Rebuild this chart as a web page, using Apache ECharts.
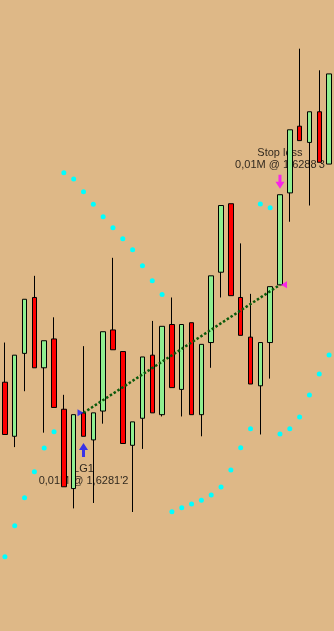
<!DOCTYPE html>
<html>
<head>
<meta charset="utf-8">
<script src="https://cdn.jsdelivr.net/npm/echarts@6/dist/echarts.min.js"></script>
<style>
html,body{margin:0;padding:0;background:#DEB887;}
#chart{width:334px;height:631px;}
</style>
</head>
<body>
<div id="chart"></div>
<script>
// Bars (one per candle)
const categories = ['1','2','3','4','5','6','7','8','9','10','11','12','13','14','15','16','17',
  '18','19','20','21','22','23','24','25','26','27','28','29','30','31','32','33','34'];
const opens  = [1.62829,1.62799,1.62845,1.62876,1.62837,1.62853,1.62814,1.62770,1.62812,1.62797,1.62813,1.62858,1.62846,1.62794,1.62809,1.62844,1.62811,
                1.62861,1.62825,1.62862,1.62811,1.62851,1.62890,1.62928,1.62876,1.62854,1.62827,1.62851,1.62883,1.62934,1.62971,1.62962,1.62979,1.62950];
const closes = [1.62800,1.62844,1.62875,1.62837,1.62852,1.62815,1.62771,1.62811,1.62799,1.62812,1.62857,1.62847,1.62795,1.62807,1.62843,1.62812,1.62860,
                1.62826,1.62861,1.62811,1.62850,1.62888,1.62927,1.62877,1.62855,1.62828,1.62851,1.62882,1.62933,1.62969,1.62963,1.62979,1.62951,1.63000];
const lows   = [1.62800,1.62793,1.62824,1.62837,1.62801,1.62815,1.62771,1.62759,1.62799,1.62762,1.62806,1.62847,1.62795,1.62757,1.62792,1.62812,1.62810,
                1.62826,1.62810,1.62811,1.62799,1.62837,1.62876,1.62877,1.62855,1.62828,1.62800,1.62831,1.62883,1.62918,1.62963,1.62927,1.62951,1.62950];
const highs  = [1.62851,1.62844,1.62875,1.62888,1.62852,1.62865,1.62822,1.62811,1.62849,1.62812,1.62857,1.62898,1.62846,1.62807,1.62843,1.62863,1.62860,
                1.62876,1.62861,1.62862,1.62850,1.62888,1.62927,1.62928,1.62906,1.62878,1.62851,1.62882,1.62933,1.62969,1.63014,1.62979,1.63002,1.63000];
// Parabolic SAR
const sar = [1.627322,1.627494,1.627649,1.627794,1.627925,1.628015,1.629452,1.629417,1.629347,1.629277,1.629208,1.629147,1.629086,1.629025,1.628936,1.628853,1.628776,
             1.627572,1.627594,1.627614,1.627635,1.627664,1.627709,1.627803,1.627927,1.628032,1.629278,1.629258,1.628003,1.628032,1.628097,1.628219,1.628336,1.628441];
// Trade
const entryIndex = 8, entryPrice = 1.62812;
const exitIndex = 28, exitPrice = 1.62883;
const entryArrowPrice = 1.627914, exitArrowPrice = 1.629402;
const entryLabelPrice = 1.627778, exitLabelPrice = 1.629526;
const entryText = "LG1\n0,01M @ 1,6281'2";
const exitText = "Stop loss\n0,01M @ 1,6288'3";
const yMin = 1.62691, yMax = 1.63041;

const candleData = categories.map((c, i) => [opens[i], closes[i], lows[i], highs[i]]);
const arrowPath = 'path://M4.5,0 L9,7 L6,7 L6,14 L3,14 L3,7 L0,7 Z';
const font = {fontFamily: 'Liberation Sans', fontSize: 11, color: '#000', lineHeight: 12};

const chart = echarts.init(document.getElementById('chart'));
chart.setOption({
  backgroundColor: '#DEB887',
  animation: false,
  grid: {left: -5, right: -1, top: 0, bottom: 0},
  xAxis: {type: 'category', data: categories, show: false, boundaryGap: true},
  yAxis: {type: 'value', min: yMin, max: yMax, show: false, scale: true},
  series: [
    {
      type: 'scatter', z: 1, silent: true, symbolSize: 1,
      itemStyle: {color: 'rgba(0,0,0,0)'},
      label: Object.assign({show: true, position: 'inside', align: 'center', verticalAlign: 'middle'}, font),
      data: [
        {value: [entryIndex, entryLabelPrice], label: {formatter: entryText}},
        {value: [exitIndex, exitLabelPrice], label: {formatter: exitText}}
      ]
    },
    {
      type: 'candlestick', z: 3, barWidth: 5,
      data: candleData,
      itemStyle: {color: '#90EE90', color0: '#FF0000', borderColor: '#000', borderColor0: '#000', borderWidth: 1}
    },
    {
      type: 'scatter', z: 4, symbol: 'circle', symbolSize: 5,
      itemStyle: {color: '#00FFFF', opacity: 1},
      data: sar.map((v, i) => [i, v])
    },
    {
      type: 'line', z: 5, symbol: 'none',
      lineStyle: {color: '#0b5a0b', width: 2.5, type: [2.5, 2]},
      data: [[entryIndex, entryPrice], [exitIndex, exitPrice]]
    },
    {
      type: 'scatter', z: 6,
      data: [
        {value: [entryIndex, entryPrice], symbol: 'triangle', symbolSize: [7, 6], symbolRotate: -90, symbolOffset: [-3, 0], itemStyle: {color: '#1a1aff'}},
        {value: [exitIndex, exitPrice], symbol: 'triangle', symbolSize: [7, 6], symbolRotate: 90, symbolOffset: [4, 0], itemStyle: {color: '#ff00ff'}},
        {value: [entryIndex, entryArrowPrice], symbol: arrowPath, symbolSize: [9, 14], itemStyle: {color: '#1010ff'}},
        {value: [exitIndex, exitArrowPrice], symbol: arrowPath, symbolSize: [9, 14], symbolRotate: 180, itemStyle: {color: '#ff00ff'}}
      ]
    }
  ]
});
</script>
</body>
</html>
